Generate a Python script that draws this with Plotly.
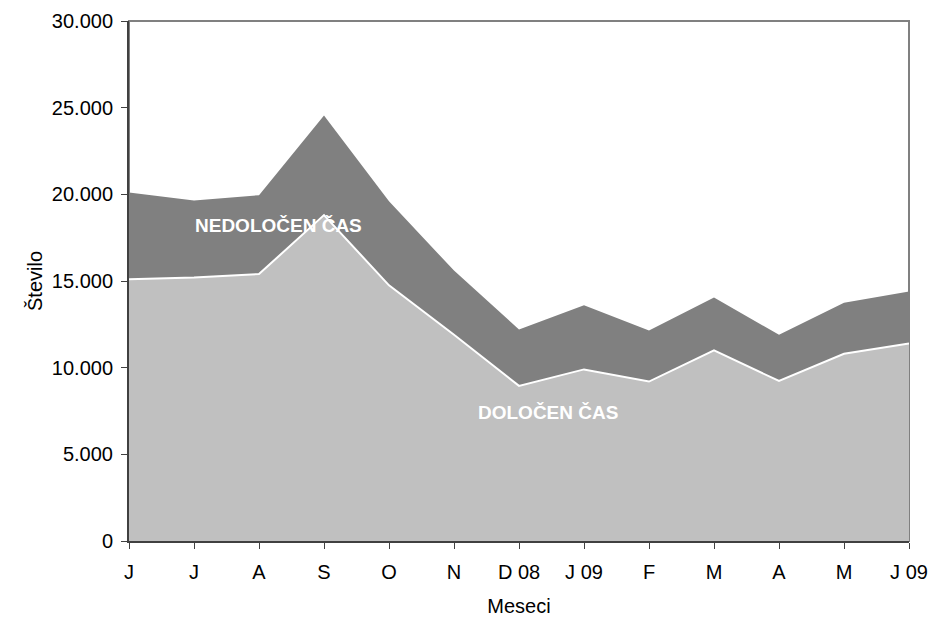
import plotly.graph_objects as go

months = ["J", "J", "A", "S", "O", "N", "D 08", "J 09", "F", "M", "A", "M", "J 09"]
dolocen = [15100, 15200, 15400, 18800, 14750, 11900, 8950, 9900, 9200, 11000, 9230, 10800, 11400]
total = [20100, 19650, 19950, 24550, 19600, 15600, 12200, 13600, 12150, 14050, 11900, 13750, 14400]
nedolocen = [t - d for t, d in zip(total, dolocen)]
y_ticks = [0, 5000, 10000, 15000, 20000, 25000, 30000]
y_ticktext = ["0", "5.000", "10.000", "15.000", "20.000", "25.000", "30.000"]

x = list(range(len(months)))
FONT = "Liberation Sans, Arial, sans-serif"

fig = go.Figure()
fig.add_trace(go.Scatter(
    x=x, y=dolocen, stackgroup="one", mode="lines",
    line=dict(color="white", width=2), fillcolor="#c0c0c0",
    name="DOLOČEN ČAS", hoverinfo="skip"))
fig.add_trace(go.Scatter(
    x=x, y=nedolocen, stackgroup="one", mode="lines",
    line=dict(color="#808080", width=0), fillcolor="#808080",
    name="NEDOLOČEN ČAS", hoverinfo="skip"))

fig.add_shape(type="rect", xref="paper", yref="paper", x0=0, y0=0, x1=1, y1=1,
              line=dict(color="#808080", width=2), layer="below")

fig.add_annotation(x=2.3, y=18200, text="<b>NEDOLOČEN ČAS</b>", showarrow=False,
                   font=dict(color="white", size=19, family=FONT))
fig.add_annotation(x=6.45, y=7400, text="<b>DOLOČEN ČAS</b>", showarrow=False,
                   font=dict(color="white", size=19, family=FONT))

fig.update_layout(
    width=931, height=618,
    margin=dict(l=129, r=22, t=21, b=77, autoexpand=False),
    paper_bgcolor="white", plot_bgcolor="white",
    showlegend=False,
    font=dict(family=FONT, size=20, color="black"),
    xaxis=dict(
        range=[0, 12], tickmode="array", tickvals=x, ticktext=months,
        showgrid=False, zeroline=False, showline=True, linecolor="#404040", linewidth=2,
        ticks="outside", ticklen=6, tickcolor="#404040", ticklabelstandoff=6,
        title=dict(text="Meseci", font=dict(size=20), standoff=17),
    ),
    yaxis=dict(
        range=[0, 30000], tickmode="array", tickvals=y_ticks, ticktext=y_ticktext,
        showgrid=False, zeroline=False, showline=True, linecolor="#404040", linewidth=2,
        ticks="outside", ticklen=6, tickcolor="#404040", ticklabelstandoff=4,
        title=dict(text="Število", font=dict(size=20), standoff=4),
    ),
)

fig.write_html("out.html", config={"displayModeBar": False},
               post_script="document.body.style.margin='0';document.body.style.overflow='hidden';")
